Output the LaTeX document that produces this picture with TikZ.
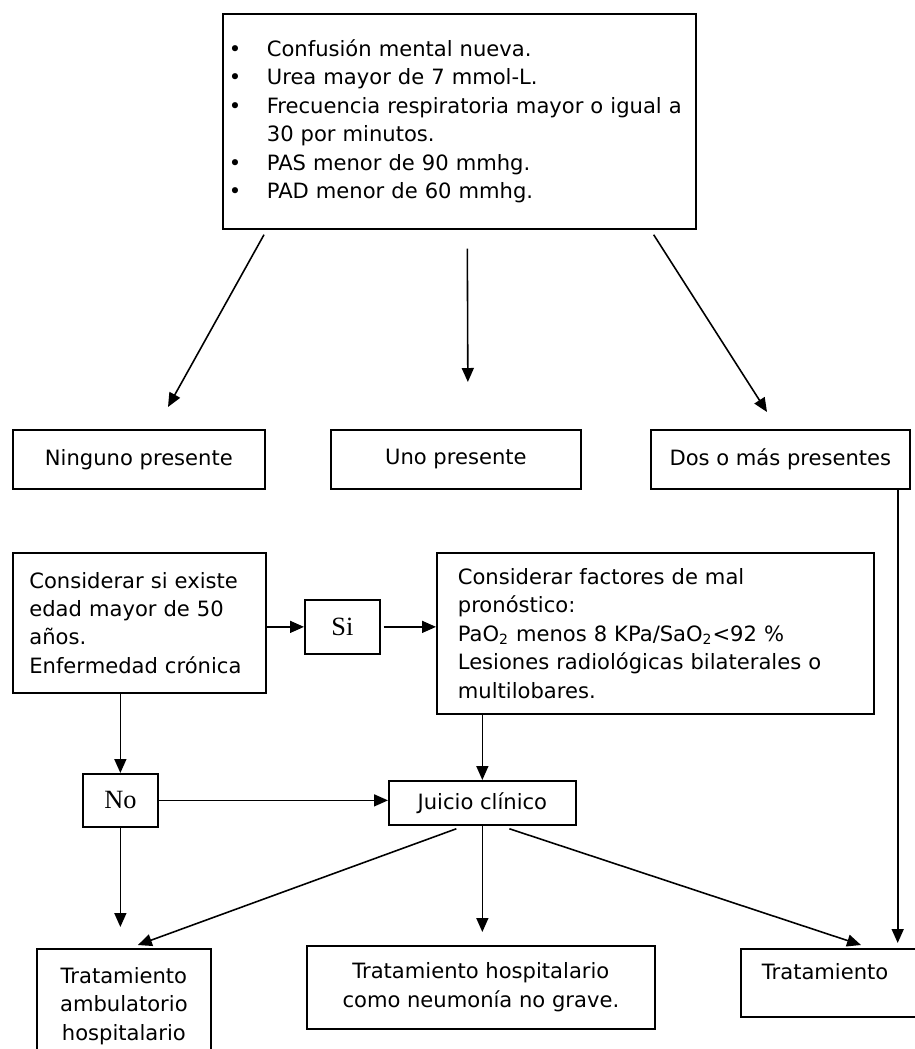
\documentclass[tikz,border=0pt]{standalone}
\usepackage{fontspec}
\setmainfont{DejaVu Sans}
\newfontfamily\yesnofont{Liberation Serif}
\usetikzlibrary{calc, arrows.meta, positioning}

\begin{document}
\begin{tikzpicture}[x=0.02cm, y=-0.02cm, >={Triangle[length=0.28cm, width=0.24cm]},
  every node/.style={font=\fontsize{12}{16.2}\selectfont},
  box/.style={draw, rectangle, line width=1pt, anchor=north west, inner sep=0pt},
  yesno/.style={box, font=\yesnofont\fontsize{15}{18}\selectfont, minimum width=1.5cm},
  arr/.style={->, line width=0.9pt}]
\useasboundingbox (0,0) rectangle (914,1049);

% criterios
\node (crit) [box, align=left, text width=9.22cm, inner xsep=0.12cm, minimum height=4.3cm] at (222,13)
  {\makebox[0.76cm][l]{\textbullet}Confusión mental nueva.\\
   \makebox[0.76cm][l]{\textbullet}Urea mayor de 7 mmol-L.\\
   \makebox[0.76cm][l]{\textbullet}Frecuencia respiratoria mayor o igual a\\
   \hspace*{0.76cm}30 por minutos.\\
   \makebox[0.76cm][l]{\textbullet}PAS menor de 90 mmhg.\\
   \makebox[0.76cm][l]{\textbullet}PAD menor de 60 mmhg.};

% cuantos presentes
\node (ning) [box, minimum width=5.04cm, minimum height=1.18cm] at (12,429) {Ninguno presente};
\node (uno) [box, minimum width=5cm, minimum height=1.18cm] at (330,429) {Uno presente};
\node (dos) [box, minimum width=5.18cm, minimum height=1.18cm] at (650,429) {Dos o más presentes};

% edad y factores
\node (cons) [box, align=left, text width=4.4cm, inner xsep=0.33cm, minimum height=2.8cm] at (12,552)
  {Considerar si existe\\edad mayor de 50\\años.\\Enfermedad crónica};
\node (si) [yesno, minimum height=1.08cm] at (304,599) {Si};
\node (fact) [box, align=left, text width=7.9cm, inner xsep=0.42cm, minimum height=3.22cm] at (436,552)
  {Considerar factores de mal\\pronóstico:\\PaO\textsubscript{2} menos 8 KPa/SaO\textsubscript{2}<92 \%\\Lesiones radiológicas bilaterales o\\multilobares.};
\node (no) [yesno, minimum height=1.06cm] at (82,773) {No};
\node (juicio) [box, minimum width=3.74cm, minimum height=0.88cm] at (388,780) {Juicio clínico};

% tratamientos
\node (amb) [box, align=center, minimum width=3.48cm, minimum height=2.28cm] at (36,948)
  {Tratamiento\\ambulatorio\\hospitalario};
\node (hosp) [box, align=center, minimum width=6.96cm, minimum height=1.66cm] at (306,945)
  {Tratamiento hospitalario\\como neumonía no grave.};
\node (trat) [box, align=left, text width=2.76cm, inner xsep=0.42cm, minimum height=1.36cm, text depth=0.45cm] at (740,948)
  {Tratamiento};

\draw[arr] ($(crit.south west)+(42,5)$) -- ($(ning.north west)+(156,-22)$);
\draw[arr] ($(crit.south)+(8,19)$) -- ($(uno.north)+(12,-47)$);
\draw[arr] ($(crit.south east)+(-43,5)$) -- ($(dos.north west)+(117,-17)$);

\draw[arr] (cons.east |- si.west) -- (si.west);
\draw[arr] ($(si.east)+(3,0)$) -- (si.east -| fact.west);
\draw[arr] (cons.south -| no.north) -- (no.north);
\draw[arr] (fact.south -| juicio.north) -- (juicio.north);
\draw[arr] (no.east) -- (no.east -| juicio.west);

\draw[arr] (no.south) -- ($(no.south |- amb.north)+(0,-21)$);
\draw[arr] ($(juicio.south)+(-26,3)$) -- ($(amb.north)+(14,-3)$);
\draw[arr] (juicio.south) -- ($(juicio.south |- hosp.north)+(0,-13)$);
\draw[arr] ($(juicio.south)+(27,3)$) -- ($(trat.north west)+(121,-3)$);
\draw[arr] ($(dos.south east)+(-13,0)$) -- ($(dos.south east |- trat.north)+(-13,-5)$);
\end{tikzpicture}
\end{document}
